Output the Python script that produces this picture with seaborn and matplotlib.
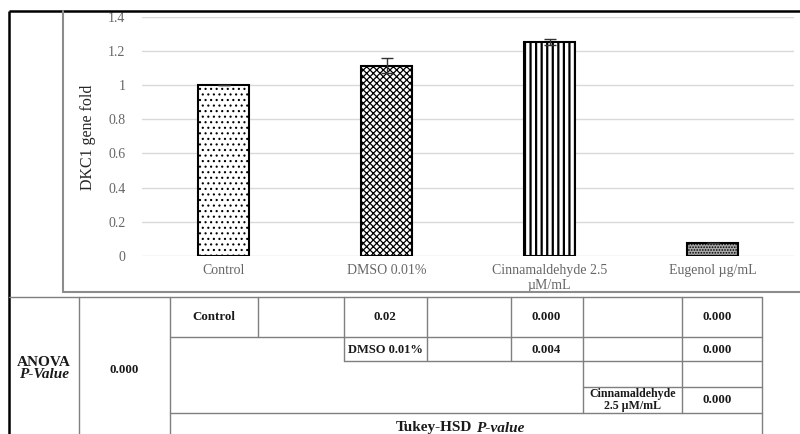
import matplotlib
matplotlib.use("Agg")
import matplotlib.pyplot as plt
import seaborn as sns
import pandas as pd

# ---------------- data ----------------
categories = ["Control", "DMSO 0.01%", "Cinnamaldehyde 2.5\nµM/mL", "Eugenol µg/mL"]
fold_values = [1.0, 1.113, 1.252, 0.075]
fold_errors = [0.0, 0.045, 0.02, 0.0]
y_ticks = [0, 0.2, 0.4, 0.6, 0.8, 1.0, 1.2, 1.4]
y_tick_labels = ["0", "0.2", "0.4", "0.6", "0.8", "1", "1.2", "1.4"]
y_label = "DKC1 gene fold"

anova_title = "ANOVA"
anova_sub = "P-Value"
anova_p = "0.000"
tukey_row_labels = ["Control", "DMSO 0.01%", "Cinnamaldehyde\n2.5 µM/mL"]
tukey_p_control = ["0.02", "0.000", "0.000"]
tukey_p_dmso = ["0.004", "0.000"]
tukey_p_cinn = ["0.000"]
tukey_title = "Tukey-HSD"
tukey_sub = "P-value"

# ---------------- figure ----------------
sns.set_theme(style="white")
plt.rcParams["font.family"] = ["Liberation Serif", "DejaVu Serif"]
plt.rcParams["hatch.linewidth"] = 1.0
plt.rcParams["hatch.color"] = "black"

W, H = 800, 434
fig = plt.figure(figsize=(W / 100, H / 100), dpi=100)
fig.patch.set_facecolor("white")

# bar axes placed in pixel coordinates
x0, x1 = 142, 794
y0, y1 = 256, 16.7
ax = fig.add_axes([x0 / W, (H - y0) / H, (x1 - x0) / W, (y0 - y1) / H])

df = pd.DataFrame({"group": categories, "fold": fold_values})
sns.barplot(data=df, x="group", y="fold", order=categories, ax=ax,
            color="white", edgecolor="black", linewidth=1.5, width=0.31,
            errorbar=None, zorder=3)

hatches = ["...", "xxxxx", "|||", "......"]
faces = ["white", "white", "white", "#a8a8a8"]
hlw = [0.8, 0.9, 1.6, 0.8]
for p, h, fc, lw in zip(ax.patches, hatches, faces, hlw):
    p.set_hatch(h)
    p.set_facecolor(fc)
    p.set_edgecolor("black")
    if hasattr(p, "set_hatch_linewidth"):
        p.set_hatch_linewidth(lw)

ax.errorbar(range(len(categories)), fold_values, yerr=fold_errors, fmt="none",
            ecolor="#333333", elinewidth=1.0, capsize=4, capthick=1.0, zorder=4)

ax.set_xlim(-0.5, len(categories) - 0.5)
ax.set_ylim(0, 1.4)
ax.set_yticks(y_ticks)
ax.set_yticklabels(y_tick_labels)
ax.yaxis.grid(True, color="#d9d9d9", linewidth=1.0, zorder=0)
ax.xaxis.grid(False)
ax.set_axisbelow(True)
for s in ax.spines.values():
    s.set_visible(False)
ax.tick_params(axis="both", length=0, labelsize=10, labelcolor="#666666")
ax.tick_params(axis="y", pad=12)
ax.tick_params(axis="x", pad=6)
ax.set_xlabel("")
ax.set_ylabel("")
ax.set_facecolor("none")

# ---------------- overlay for frame, label, table ----------------
ov = fig.add_axes([0, 0, 1, 1], zorder=5)
ov.set_xlim(0, W)
ov.set_ylim(H, 0)
ov.axis("off")
ov.patch.set_alpha(0)

ov.text(88, 137, y_label, rotation=90, ha="center", va="center",
        fontsize=11.5, color="#262626")

# outer black frame
ov.plot([9, W], [11, 11], color="black", lw=1.8, solid_capstyle="butt")
ov.plot([9, 9], [11, H], color="black", lw=1.8, solid_capstyle="butt")
# gray chart box
ov.plot([63, 63], [11, 292], color="#8c8c8c", lw=1.5)
ov.plot([63, W], [292, 292], color="#8c8c8c", lw=1.5)

tc = "#7f7f7f"
tlw = 1.0
def hl(y, xa, xb):
    ov.plot([xa, xb], [y, y], color=tc, lw=tlw)
def vl(x, ya, yb):
    ov.plot([x, x], [ya, yb], color=tc, lw=tlw)

hl(297, 9, 762)
hl(337, 170, 762)
hl(361, 344, 762)
hl(387, 583, 762)
hl(413, 170, 762)
vl(79, 297, H)
vl(170, 297, H)
vl(258, 297, 337)
vl(344, 297, 361)
vl(427, 297, 361)
vl(511, 297, 361)
vl(583, 297, 413)
vl(682, 297, 413)
vl(762, 297, H)

bf = dict(fontweight="bold", color="#1a1a1a", va="center")
ov.text(44, 362, anova_title, fontsize=11, ha="center", **bf)
ov.text(44, 374, anova_sub, fontsize=11, fontstyle="italic", ha="center", **bf)
ov.text(124, 370, anova_p, fontsize=9.3, ha="center", **bf)

# Tukey matrix
ov.text(214, 317, tukey_row_labels[0], fontsize=9.3, ha="center", **bf)
for xc, v in zip([385, 546, 717], tukey_p_control):
    ov.text(xc, 317, v, fontsize=9.3, ha="center", **bf)
ov.text(385, 350, tukey_row_labels[1], fontsize=9.0, ha="center", **bf)
for xc, v in zip([546, 717], tukey_p_dmso):
    ov.text(xc, 350, v, fontsize=9.3, ha="center", **bf)
ov.text(633, 400, tukey_row_labels[2], fontsize=8.6, linespacing=1.05,
        ha="center", **bf)
for xc, v in zip([717], tukey_p_cinn):
    ov.text(xc, 400, v, fontsize=9.3, ha="center", **bf)

ov.text(472, 428, tukey_title, fontsize=11, ha="right", **bf)
ov.text(476, 428, tukey_sub, fontsize=11, fontstyle="italic", ha="left", **bf)

fig.savefig("out.png", dpi=100)
